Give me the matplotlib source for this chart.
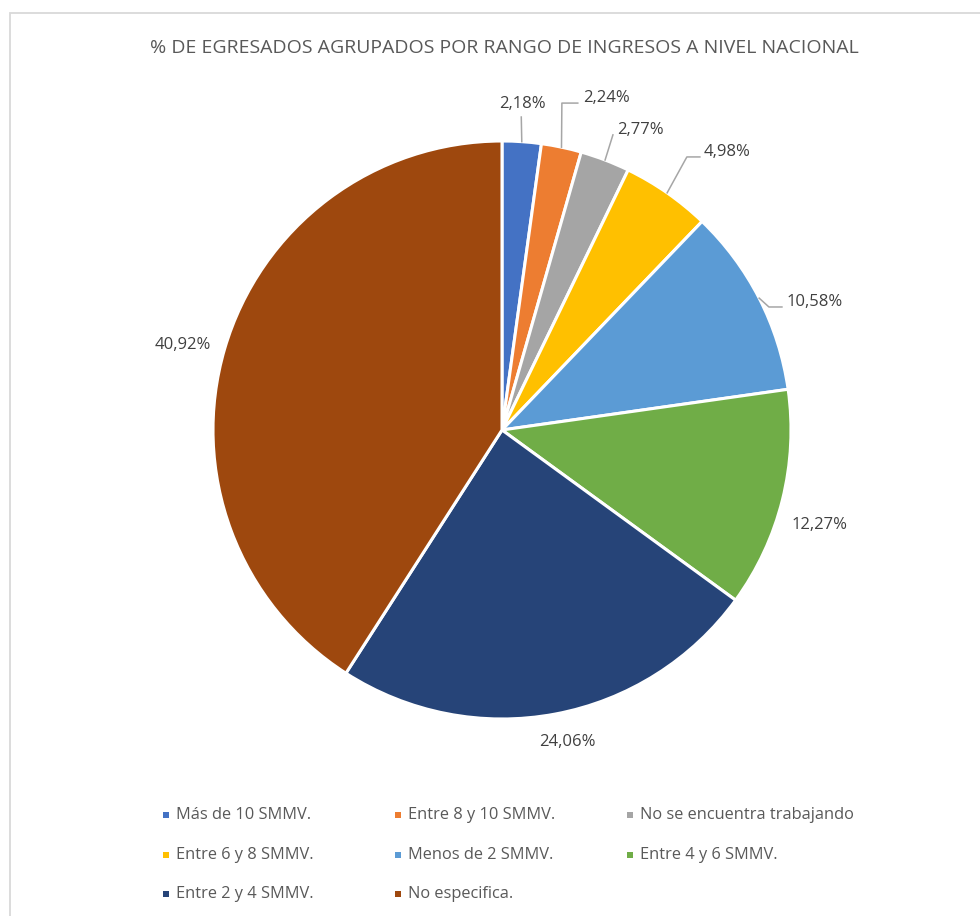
import matplotlib
matplotlib.use("Agg")
import numpy as np
import matplotlib.pyplot as plt
from matplotlib.patches import Rectangle

plt.rcParams['font.family'] = ['Open Sans', 'DejaVu Sans']

# Data (percent of graduates by income range)
categories = ['Más de 10 SMMV.', 'Entre 8 y 10 SMMV.', 'No se encuentra trabajando',
              'Entre 6 y 8 SMMV.', 'Menos de 2 SMMV.', 'Entre 4 y 6 SMMV.',
              'Entre 2 y 4 SMMV.', 'No especifica.']
values = [2.18, 2.24, 2.77, 4.98, 10.58, 12.27, 24.06, 40.92]
colors = ['#4472C4', '#ED7D31', '#A5A5A5', '#FFC000',
          '#5B9BD5', '#70AD47', '#264478', '#9E480E']
title = '% DE EGRESADOS AGRUPADOS POR RANGO DE INGRESOS A NIVEL NACIONAL'

# Label placement (polar, relative to slice middle) and leader lines
label_r = [1.13, 1.182, 1.112, 1.187, 1.081, 1.148, 1.103, 1.142]
label_dang = [0.4, -1.8, -0.1, -1.05, -2.9, -2.6, 1.2, 1.4]
label_ha = ['center', 'left', 'left', 'left', 'left', 'center', 'center', 'center']
elbow_r = [1.085, 1.150, 1.091, 1.141, 1.017, None, None, None]
elbow_dang = [0.4, 1.5, 0.3, 0.75, -2.4, 0, 0, 0]
leader_h = [0, 0.055, 0, 0.045, 0.045, 0, 0, 0]

W, H = 980, 916
fig = plt.figure(figsize=(W / 100, H / 100), dpi=100)

# Light gray chart frame
fig.add_artist(Rectangle((10 / W, -0.05), 1.1, (H - 13) / H + 0.05,
                         transform=fig.transFigure, fill=False,
                         edgecolor='#D9D9D9', linewidth=1.3))

fig.text(504 / W, 1 - 48 / H, title, ha='center', va='center',
         fontsize=14.0, color='#595959')

cx, cy, rad = 502, 430, 289
ax = fig.add_axes([(cx - rad) / W, (H - cy - rad) / H, 2 * rad / W, 2 * rad / H])
wedges, _ = ax.pie(values, colors=colors, startangle=90, counterclock=False,
                   wedgeprops=dict(edgecolor='white', linewidth=2.2))
ax.set_xlim(-1, 1)
ax.set_ylim(-1, 1)
ax.axis('off')

for i, w in enumerate(wedges):
    mid = np.deg2rad((w.theta1 + w.theta2) / 2)
    a = mid + np.deg2rad(label_dang[i])
    tx, ty = label_r[i] * np.cos(a), label_r[i] * np.sin(a)
    txt = f'{values[i]:.2f}%'.replace('.', ',')
    ax.text(tx, ty, txt, ha=label_ha[i], va='center', fontsize=12,
            color='#404040', clip_on=False)
    if elbow_r[i] is not None:
        ea = mid + np.deg2rad(elbow_dang[i])
        ex, ey = elbow_r[i] * np.cos(ea), elbow_r[i] * np.sin(ea)
        xs = [np.cos(mid), ex, ex + leader_h[i]]
        ys = [np.sin(mid), ey, ey]
        ax.plot(xs, ys, color='#A6A6A6', linewidth=1.1, clip_on=False)

# Legend: three equal columns
col_x = [166, 398, 630]
row_y = [815, 855, 894]
for i, (lab, c) in enumerate(zip(categories, colors)):
    mx = col_x[i % 3]
    my = row_y[i // 3]
    fig.add_artist(Rectangle(((mx - 3) / W, 1 - (my + 3) / H), 6 / W, 6 / H,
                             transform=fig.transFigure, facecolor=c,
                             edgecolor='none'))
    fig.text((mx + 10) / W, 1 - my / H, lab, ha='left', va='center',
             fontsize=11.8, color='#595959')

fig.savefig('out.png', dpi=100)
